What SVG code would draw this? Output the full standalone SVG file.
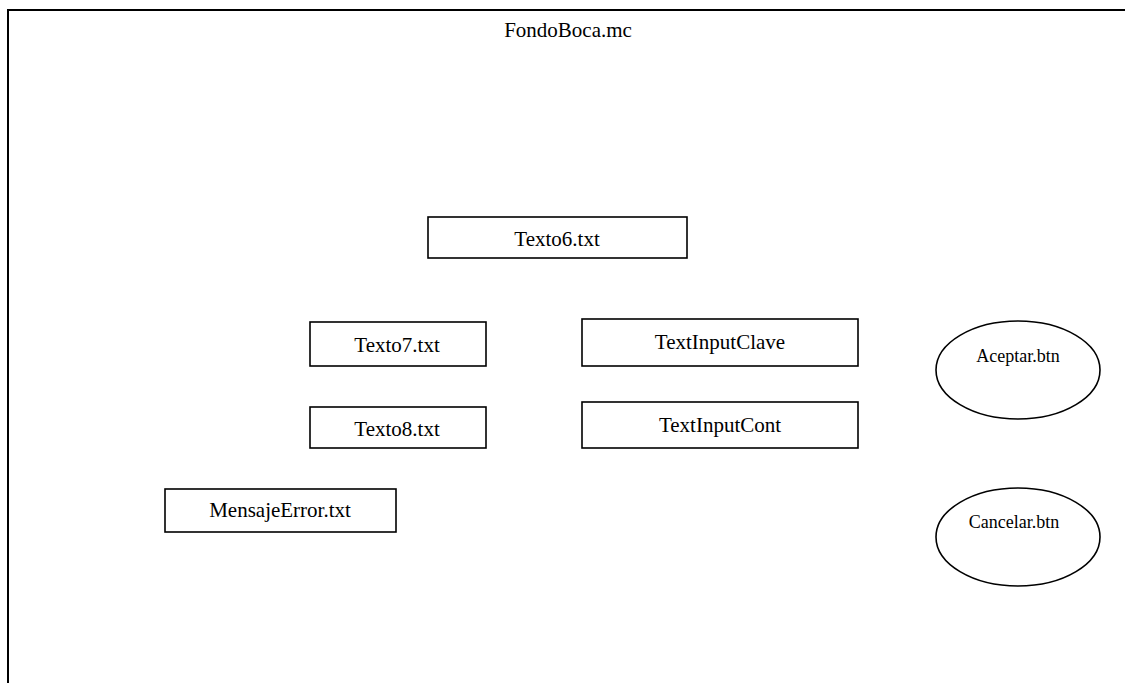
<svg xmlns="http://www.w3.org/2000/svg" width="1125" height="683" viewBox="0 0 1125 683">
  <style>
    .box { fill: #ffffff; stroke: #000000; stroke-width: 1.6; }
    .lbl { font-family: "Liberation Serif", "Times New Roman", serif; font-size: 21px; fill: #000000; text-anchor: middle; }
    .btn { font-family: "Liberation Serif", "Times New Roman", serif; font-size: 18px; fill: #000000; text-anchor: middle; }
  </style>
  <rect x="0" y="0" width="1125" height="683" fill="#ffffff"/>

  <!-- movie clip frame, running past the right and bottom edges -->
  <g id="fondoBoca">
    <rect x="8" y="10" width="1140" height="700" fill="#ffffff" stroke="#000000" stroke-width="2"/>
    <text class="lbl" x="568" y="37">FondoBoca.mc</text>
  </g>

  <g id="connectors"></g>

  <g id="texto6">
    <rect class="box" x="428" y="217" width="259" height="41"/>
    <text class="lbl" x="557" y="246">Texto6.txt</text>
  </g>

  <g id="texto7">
    <rect class="box" x="310" y="322" width="176" height="44"/>
    <text class="lbl" x="397" y="352">Texto7.txt</text>
  </g>

  <g id="texto8">
    <rect class="box" x="310" y="407" width="176" height="41"/>
    <text class="lbl" x="397" y="436">Texto8.txt</text>
  </g>

  <g id="textInputClave">
    <rect class="box" x="582" y="319" width="276" height="47"/>
    <text class="lbl" x="720" y="349">TextInputClave</text>
  </g>

  <g id="textInputCont">
    <rect class="box" x="582" y="402" width="276" height="46"/>
    <text class="lbl" x="720" y="432">TextInputCont</text>
  </g>

  <g id="mensajeError">
    <rect class="box" x="165" y="489" width="231" height="43"/>
    <text class="lbl" x="280" y="517">MensajeError.txt</text>
  </g>

  <g id="aceptar">
    <ellipse class="box" cx="1018" cy="370" rx="82" ry="49"/>
    <text class="btn" x="1018" y="362">Aceptar.btn</text>
  </g>

  <g id="cancelar">
    <ellipse class="box" cx="1018" cy="537" rx="82" ry="49"/>
    <text class="btn" x="1014" y="528">Cancelar.btn</text>
  </g>
</svg>
